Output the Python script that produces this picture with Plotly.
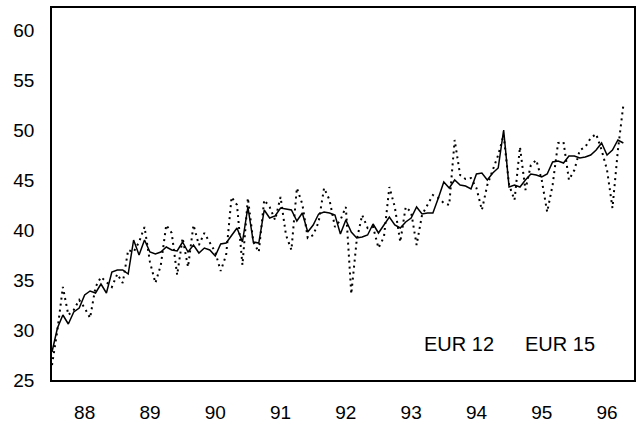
import plotly.graph_objects as go

start_year = 88  # monthly data starting January 1988
eur12 = [27.8, 30.2, 31.5, 30.6, 31.8, 32.2, 33.5, 33.9, 33.7, 34.6,
         33.7, 35.8, 36.0, 36.0, 35.6, 39.0, 37.5, 39.0, 37.8, 37.6,
         37.8, 38.3, 38.0, 37.9, 38.8, 37.8, 38.5, 37.7, 38.2, 38.0,
         37.4, 38.6, 38.7, 39.5, 40.2, 38.8, 42.3, 38.8, 38.7, 42.0,
         41.2, 41.4, 42.2, 42.1, 42.0, 40.9, 41.7, 39.8, 40.5, 41.6,
         41.8, 41.7, 41.5, 39.6, 41.0, 39.8, 39.2, 39.3, 39.5, 40.6,
         39.7, 40.5, 41.3, 40.5, 40.2, 40.8, 41.2, 42.3, 41.6, 41.7,
         41.7, 43.2, 44.8, 44.2, 45.0, 44.5, 44.4, 44.1, 45.6, 45.7,
         45.0, 45.7, 46.2, 50.0, 44.3, 44.5, 44.3, 45.0, 45.6, 45.5,
         45.3, 45.6, 46.8, 46.9, 46.7, 47.4, 47.4, 47.2, 47.3, 47.5,
         48.0, 48.7, 47.5, 48.0, 49.0, 48.7]
eur15 = [26.5, 30.0, 34.3, 31.5, 32.0, 33.0, 32.2, 31.2, 34.3, 35.3,
         34.8, 34.3, 35.6, 34.7, 38.0, 37.8, 38.8, 40.3, 36.8, 34.7,
         36.5, 40.5, 39.7, 35.5, 39.2, 36.3, 40.5, 38.5, 39.7, 38.8,
         37.8, 35.9, 37.5, 43.3, 42.5, 36.5, 43.2, 38.8, 37.8, 43.0,
         42.3, 41.0, 43.3, 39.5, 38.0, 44.2, 42.6, 39.2, 39.5, 40.8,
         44.2, 43.0, 40.3, 41.0, 42.3, 33.6, 39.0, 41.5, 40.2, 40.3,
         38.2, 39.3, 44.3, 42.3, 38.8, 42.3, 41.8, 38.5, 41.5, 42.5,
         43.5, 43.2, 42.7, 42.5, 49.0, 45.5, 45.1, 45.2, 44.2, 42.0,
         44.5, 46.0, 47.5, 49.5, 44.5, 43.0, 48.3, 44.0, 46.5, 47.0,
         45.0, 41.8, 44.5, 48.7, 48.8, 45.0, 46.0, 48.0, 48.3, 49.2,
         49.6, 48.0, 46.0, 42.2, 48.0, 52.5]
year_labels = ["88", "89", "90", "91", "92", "93", "94", "95", "96"]
y_ticks = [25, 30, 35, 40, 45, 50, 55, 60]
legend_labels = ["EUR 12", "EUR 15"]

t12 = [start_year + i / 12 for i in range(len(eur12))]
t15 = [start_year + i / 12 for i in range(len(eur15))]

fig = go.Figure()
fig.add_trace(go.Scatter(x=t15, y=eur15, mode="lines", name=legend_labels[1],
                         line=dict(color="black", width=2, dash="2px,4px")))
fig.add_trace(go.Scatter(x=t12, y=eur12, mode="lines", name=legend_labels[0],
                         line=dict(color="black", width=1.5)))

font = dict(family="Liberation Sans, Arial, sans-serif", size=19, color="black")
legfont = dict(family="Liberation Sans, Arial, sans-serif", size=20, color="black")

fig.update_layout(
    width=636, height=427,
    margin=dict(l=52, r=2, t=8, b=47, autoexpand=False),
    paper_bgcolor="white", plot_bgcolor="white",
    showlegend=False,
    font=font,
    xaxis=dict(range=[88, 96.913], tickvals=[int(y) + 0.5 for y in year_labels],
               ticktext=year_labels, showgrid=False, zeroline=False,
               showline=True, linecolor="black", linewidth=1.5, mirror=True,
               ticks="", ticklabelstandoff=14, tickfont=font, automargin=False),
    yaxis=dict(range=[25, 62.2], tickvals=y_ticks, showgrid=False, zeroline=False,
               showline=True, linecolor="black", linewidth=1.5, mirror=True,
               ticks="", ticklabelstandoff=12, tickfont=font, automargin=False),
    annotations=[
        dict(x=0.699, y=0.098, xref="paper", yref="paper", text=legend_labels[0],
             showarrow=False, font=legfont, xanchor="center", yanchor="middle"),
        dict(x=0.872, y=0.098, xref="paper", yref="paper", text=legend_labels[1],
             showarrow=False, font=legfont, xanchor="center", yanchor="middle"),
    ],
)

fig.write_html("out.html", config={"displayModeBar": False},
               post_script="document.body.style.margin='0';document.body.style.overflow='hidden';")
